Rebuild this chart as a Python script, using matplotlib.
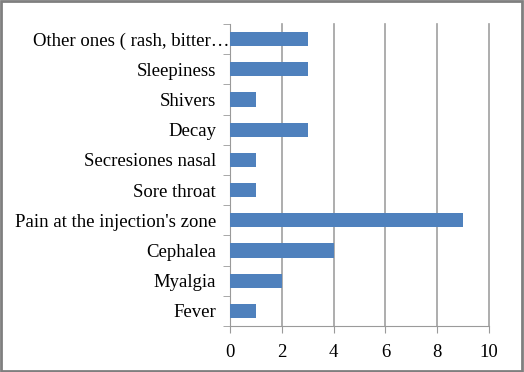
import matplotlib.pyplot as plt
import matplotlib.transforms as mtransforms

symptoms = ["Fever", "Myalgia", "Cephalea", "Pain at the injection's zone",
            "Sore throat", "Secresiones nasal", "Decay", "Shivers",
            "Sleepiness", "Other ones ( rash, bitter\u2026"]
counts = [1, 2, 4, 9, 1, 1, 3, 1, 3, 3]
xticks = [0, 2, 4, 6, 8, 10]

plt.rcParams['font.family'] = ['Liberation Serif', 'DejaVu Serif']

fig = plt.figure(figsize=(5.24, 3.72), dpi=100)
ax = fig.add_axes([230 / 524, 46 / 372, 259 / 524, 302 / 372])

ypos = range(len(symptoms))
ax.barh(ypos, counts, height=0.47, color='#4F81BD', zorder=3)

ax.set_xlim(0, 10)
ax.set_ylim(-0.5, len(symptoms) - 0.5)
ax.set_xticks(xticks)
ax.set_xticklabels([str(t) for t in xticks], fontsize=13.5)
ax.set_yticks(list(ypos))
ax.set_yticklabels(symptoms, fontsize=13.5)
ax.tick_params(axis='y', length=0, pad=10)
ax.set_yticks([i - 0.5 for i in range(len(symptoms) + 1)], minor=True)
ax.tick_params(axis='y', which='minor', length=5, color='#9a9a9a', direction='out')
ax.tick_params(axis='x', length=5, color='#9a9a9a', direction='out', pad=8)

# the truncated label runs up to the axis in the original
lbl = ax.get_yticklabels()[-1]
lbl.set_transform(lbl.get_transform() + mtransforms.ScaledTranslation(0.13, 0, fig.dpi_scale_trans))

for t in xticks[1:]:
    ax.axvline(t, color='#a0a0a0', linewidth=1.2, zorder=0, clip_on=False)
for s in ['top', 'right']:
    ax.spines[s].set_visible(False)
for s in ['left', 'bottom']:
    ax.spines[s].set_color('#9a9a9a')

# outer frame
fig.patches.append(plt.Rectangle((0.002, 0.003), 0.995, 0.993, transform=fig.transFigure,
                                 fill=False, edgecolor='#7f7f7f', linewidth=2))

fig.savefig('out.png', dpi=100)
